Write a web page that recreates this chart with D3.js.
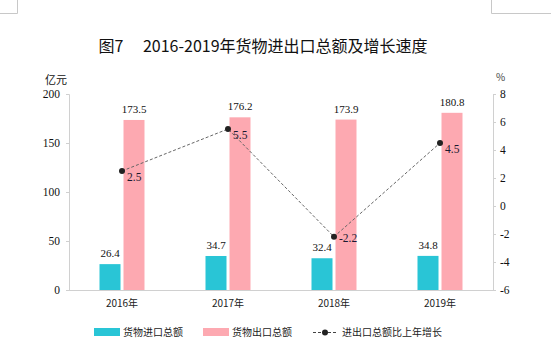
<!DOCTYPE html>
<html>
<head>
<meta charset="utf-8">
<script src="https://cdn.jsdelivr.net/npm/d3@7/dist/d3.min.js"></script>
<style>
  html, body { margin: 0; padding: 0; background: #fff; }
  svg { display: block; }
</style>
</head>
<body>
<div id="chart"></div>
<script>
const years = ["2016年", "2017年", "2018年", "2019年"];
const imports = [26.4, 34.7, 32.4, 34.8];
const exports = [173.5, 176.2, 173.9, 180.8];
const growth = [2.5, 5.5, -2.2, 4.5];
const leftTicks = [0, 50, 100, 150, 200];
const rightTicks = [-6, -4, -2, 0, 2, 4, 6, 8];

const width = 551, height = 360;
const margin = { top: 94, right: 58, bottom: 70, left: 69 };
const serif = "'Liberation Serif', 'DejaVu Serif', serif";
const cjk = "'Noto Sans CJK SC', sans-serif";

const svg = d3.select("#chart").append("svg")
  .attr("width", width)
  .attr("height", height);

// page crop marks
const marks = svg.append("g").attr("stroke", "#c8c8c8").attr("stroke-width", 1);
marks.append("line").attr("x1", 0).attr("x2", 17.5).attr("y1", 13.5).attr("y2", 13.5);
marks.append("line").attr("x1", 17.5).attr("x2", 17.5).attr("y1", 0).attr("y2", 13.5);
marks.append("line").attr("x1", 491.5).attr("x2", 551).attr("y1", 13.5).attr("y2", 13.5);
marks.append("line").attr("x1", 491.5).attr("x2", 491.5).attr("y1", 0).attr("y2", 13.5);

const x = d3.scaleBand()
  .domain(years)
  .range([margin.left, width - margin.right]);

const yL = d3.scaleLinear().domain([0, 200]).range([height - margin.bottom, margin.top]);
const yR = d3.scaleLinear().domain([-6, 8]).range([height - margin.bottom, margin.top]);

const barW = 21, gap = 3;

// title
svg.append("text")
  .attr("x", 263).attr("y", 52)
  .attr("text-anchor", "middle")
  .attr("font-family", cjk)
  .attr("font-size", 16)
  .attr("fill", "#111")
  .text("图7\u3000 2016-2019年货物进出口总额及增长速度");

svg.append("text").attr("x", 56).attr("y", 84).attr("text-anchor", "middle")
  .attr("font-family", cjk).attr("font-size", 11).attr("fill", "#111").text("亿元");
svg.append("text").attr("x", 496).attr("y", 81)
  .attr("font-family", cjk).attr("font-size", 10).attr("fill", "#444").text("%");

// axes
const gL = svg.append("g")
  .attr("transform", `translate(${margin.left},0)`)
  .call(d3.axisLeft(yL).tickValues(leftTicks).tickSize(3).tickPadding(6)
    .tickFormat(d => String(d)));
const gR = svg.append("g")
  .attr("transform", `translate(${width - margin.right},0)`)
  .call(d3.axisRight(yR).tickValues(rightTicks).tickSize(3).tickPadding(4)
    .tickFormat(d => String(d)));
[gL, gR].forEach(g => {
  g.selectAll(".domain, line").attr("stroke", "#d0d0d0");
  g.selectAll("text").attr("font-family", serif).attr("font-size", 11.5).attr("fill", "#111");
});

svg.append("line")
  .attr("x1", margin.left).attr("x2", width - margin.right)
  .attr("y1", yL(0) + 0.5).attr("y2", yL(0) + 0.5)
  .attr("stroke", "#d0d0d0");

// bars
const cx = d => x(d) + x.bandwidth() / 2;

svg.selectAll("rect.imp").data(years).join("rect")
  .attr("class", "imp")
  .attr("x", d => cx(d) - gap / 2 - barW)
  .attr("width", barW)
  .attr("y", (d, i) => yL(imports[i]))
  .attr("height", (d, i) => yL(0) - yL(imports[i]))
  .attr("fill", "#29C5D6");

svg.selectAll("rect.exp").data(years).join("rect")
  .attr("class", "exp")
  .attr("x", d => cx(d) + gap / 2)
  .attr("width", barW)
  .attr("y", (d, i) => yL(exports[i]))
  .attr("height", (d, i) => yL(0) - yL(exports[i]))
  .attr("fill", "#FDA9B1");

svg.selectAll("text.impv").data(years).join("text")
  .attr("class", "impv")
  .attr("x", d => cx(d) - gap / 2 - barW / 2)
  .attr("y", (d, i) => yL(imports[i]) - 7)
  .attr("text-anchor", "middle")
  .attr("font-family", serif).attr("font-size", 11).attr("fill", "#111")
  .text((d, i) => imports[i].toFixed(1));

svg.selectAll("text.expv").data(years).join("text")
  .attr("class", "expv")
  .attr("x", d => cx(d) + gap / 2 + barW / 2)
  .attr("y", (d, i) => yL(exports[i]) - 7)
  .attr("text-anchor", "middle")
  .attr("font-family", serif).attr("font-size", 11).attr("fill", "#111")
  .text((d, i) => exports[i].toFixed(1));

// growth line
const line = d3.line()
  .x((d, i) => cx(years[i]))
  .y(d => yR(d));

svg.append("path")
  .datum(growth)
  .attr("d", line)
  .attr("fill", "none")
  .attr("stroke", "#666")
  .attr("stroke-width", 1)
  .attr("stroke-dasharray", "3,2");

svg.selectAll("circle.pt").data(growth).join("circle")
  .attr("class", "pt")
  .attr("cx", (d, i) => cx(years[i]))
  .attr("cy", d => yR(d))
  .attr("r", 3)
  .attr("fill", "#222");

svg.selectAll("text.gv").data(growth).join("text")
  .attr("class", "gv")
  .attr("x", (d, i) => cx(years[i]) + 5)
  .attr("y", d => yR(d) + (d < 0 ? 5 : 10))
  .attr("font-family", serif).attr("font-size", 11.5).attr("fill", "#1a1a30")
  .text(d => d.toFixed(1));

// x labels
svg.selectAll("text.xl").data(years).join("text")
  .attr("class", "xl")
  .attr("x", d => cx(d))
  .attr("y", 307)
  .attr("text-anchor", "middle")
  .attr("font-family", cjk).attr("font-size", 10).attr("fill", "#222")
  .text(d => d);

// legend
const lg = svg.append("g").attr("font-family", cjk).attr("font-size", 10).attr("fill", "#222");
lg.append("rect").attr("x", 94).attr("y", 328).attr("width", 26).attr("height", 8).attr("fill", "#29C5D6");
lg.append("text").attr("x", 123).attr("y", 336).text("货物进口总额");
lg.append("rect").attr("x", 203).attr("y", 328).attr("width", 26).attr("height", 8).attr("fill", "#FDA9B1");
lg.append("text").attr("x", 232).attr("y", 336).text("货物出口总额");
lg.append("line").attr("x1", 313).attr("x2", 337).attr("y1", 332.5).attr("y2", 332.5)
  .attr("stroke", "#444").attr("stroke-dasharray", "3,2");
lg.append("circle").attr("cx", 325).attr("cy", 332.5).attr("r", 3).attr("fill", "#222");
lg.append("text").attr("x", 342).attr("y", 336).text("进出口总额比上年增长");
</script>
</body>
</html>
